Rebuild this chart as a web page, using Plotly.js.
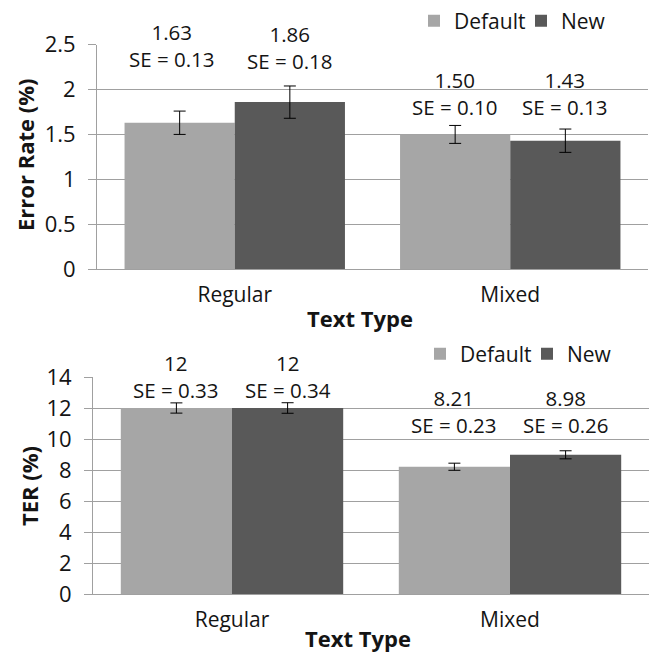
<!DOCTYPE html>
<html><head><meta charset="utf-8">
<script src="https://cdn.plot.ly/plotly-3.0.1.min.js"></script>
<style>html,body{margin:0;padding:0;background:#fff}#chart{width:649px;height:654px}</style>
</head><body><div id="chart"></div>
<script>
// ---- data ----
const categories = ['Regular', 'Mixed'];
const seriesNames = ['Default', 'New'];
const errDefault = [1.63, 1.50];
const errNew = [1.86, 1.43];
const errSeDefault = [0.13, 0.10];
const errSeNew = [0.18, 0.13];
const errLabelsDefault = ['1.63', '1.50'];
const errLabelsNew = ['1.86', '1.43'];
const terDefault = [12, 8.21];
const terNew = [12, 8.98];
const terSeDefault = [0.33, 0.23];
const terSeNew = [0.34, 0.26];
const terLabelsDefault = ['12', '8.21'];
const terLabelsNew = ['12', '8.98'];
const errTicks = [0, 0.5, 1, 1.5, 2, 2.5];
const terTicks = [0, 2, 4, 6, 8, 10, 12, 14];

// ---- styling ----
const W = 649, H = 654;
const px = x => x / W;
const py = y => 1 - y / H;
const FONT = 'Open Sans, Lato, sans-serif';
const TXT = '#141414';
const GRID = '#a0a0a0';
const C_DEF = '#a6a6a6', C_NEW = '#595959';

function barTrace(name, y, se, color, xa, ya, legend) {
  return {
    type: 'bar', name: name, x: categories, y: y,
    xaxis: xa, yaxis: ya, legend: legend,
    marker: {color: color, line: {width: 0}},
    error_y: {type: 'data', array: se, visible: true, color: '#000', thickness: 1, width: 6}
  };
}

const data = [
  barTrace(seriesNames[0], errDefault, errSeDefault, C_DEF, 'x', 'y', 'legend'),
  barTrace(seriesNames[1], errNew, errSeNew, C_NEW, 'x', 'y', 'legend'),
  barTrace(seriesNames[0], terDefault, terSeDefault, C_DEF, 'x2', 'y2', 'legend2'),
  barTrace(seriesNames[1], terNew, terSeNew, C_NEW, 'x2', 'y2', 'legend2')
];

const annotations = [];
function addLabels(xref, valsLabels, ses, offset, yCenters, shifts) {
  categories.forEach((c, i) => {
    annotations.push({
      xref: xref, yref: 'paper', x: i + offset, y: py(yCenters[i]),
      xanchor: 'center', yanchor: 'middle', showarrow: false,
      xshift: shifts[i],
      text: valsLabels[i] + '<br>SE = ' + ses[i].toFixed(2),
      font: {family: FONT, size: 20.5, color: TXT}
    });
  });
}
addLabels('x', errLabelsDefault, errSeDefault, -0.2, [46, 93], [-8, 0]);
addLabels('x', errLabelsNew, errSeNew, 0.2, [47, 93], [0, 0]);
addLabels('x2', terLabelsDefault, terSeDefault, -0.2, [376.5, 411.5], [0, 0]);
addLabels('x2', terLabelsNew, terSeNew, 0.2, [376.5, 411.5], [0, 0]);

// axis titles
const TFONT = {family: FONT, size: 22, color: TXT};
annotations.push(
  {xref: 'paper', yref: 'paper', x: px(360), y: py(318), showarrow: false, xanchor: 'center', yanchor: 'middle',
   text: '<b>Text Type</b>', font: TFONT},
  {xref: 'paper', yref: 'paper', x: px(358), y: py(638), showarrow: false, xanchor: 'center', yanchor: 'middle',
   text: '<b>Text Type</b>', font: TFONT},
  {xref: 'paper', yref: 'paper', x: px(25), y: py(155), showarrow: false, xanchor: 'center', yanchor: 'middle', textangle: -90,
   text: '<b>Error Rate (%)</b>', font: TFONT},
  {xref: 'paper', yref: 'paper', x: px(29), y: py(486), showarrow: false, xanchor: 'center', yanchor: 'middle', textangle: -90,
   text: '<b>TER (%)</b>', font: TFONT}
);

const xCommon = {
  type: 'category', showline: true, linecolor: GRID, linewidth: 1, ticks: '',
  showgrid: false, zeroline: false, fixedrange: true,
  tickfont: {family: FONT, size: 21, color: TXT}, ticklabelstandoff: 7
};
const yCommon = {
  showline: true, linecolor: GRID, linewidth: 1, ticks: 'outside', ticklen: 8, tickcolor: GRID, tickwidth: 1,
  showgrid: true, gridcolor: GRID, gridwidth: 1, zeroline: false, fixedrange: true,
  tickfont: {family: FONT, size: 22, color: TXT}, ticklabelstandoff: 8
};

const legendCommon = {
  orientation: 'h', xanchor: 'left', yanchor: 'middle',
  font: {family: FONT, size: 21, color: TXT}, bgcolor: 'rgba(0,0,0,0)',
  itemwidth: 30, traceorder: 'normal', entrywidthmode: 'pixels', entrywidth: 62
};

const layout = {
  width: W, height: H,
  margin: {l: 0, r: 0, t: 0, b: 0, pad: 0},
  paper_bgcolor: '#fff', plot_bgcolor: '#fff',
  barmode: 'group', bargap: 0.2, bargroupgap: 0,
  showlegend: true,
  xaxis: Object.assign({}, xCommon, {domain: [px(97), px(648)], anchor: 'y', range: [-0.5, 1.5]}),
  yaxis: Object.assign({}, yCommon, {domain: [py(269), py(44.7)], anchor: 'x', range: [0, 2.5], tickvals: errTicks}),
  xaxis2: Object.assign({}, xCommon, {domain: [px(93), px(649)], anchor: 'y2', range: [-0.5, 1.5]}),
  yaxis2: Object.assign({}, yCommon, {domain: [py(594), py(377)], anchor: 'x2', range: [0, 14], tickvals: terTicks}),
  legend: Object.assign({}, legendCommon, {x: px(414), y: py(21)}),
  legend2: Object.assign({}, legendCommon, {x: px(420), y: py(354)}),
  annotations: annotations
};

Plotly.newPlot('chart', data, layout, {staticPlot: true, displayModeBar: false});
</script>
</body></html>
